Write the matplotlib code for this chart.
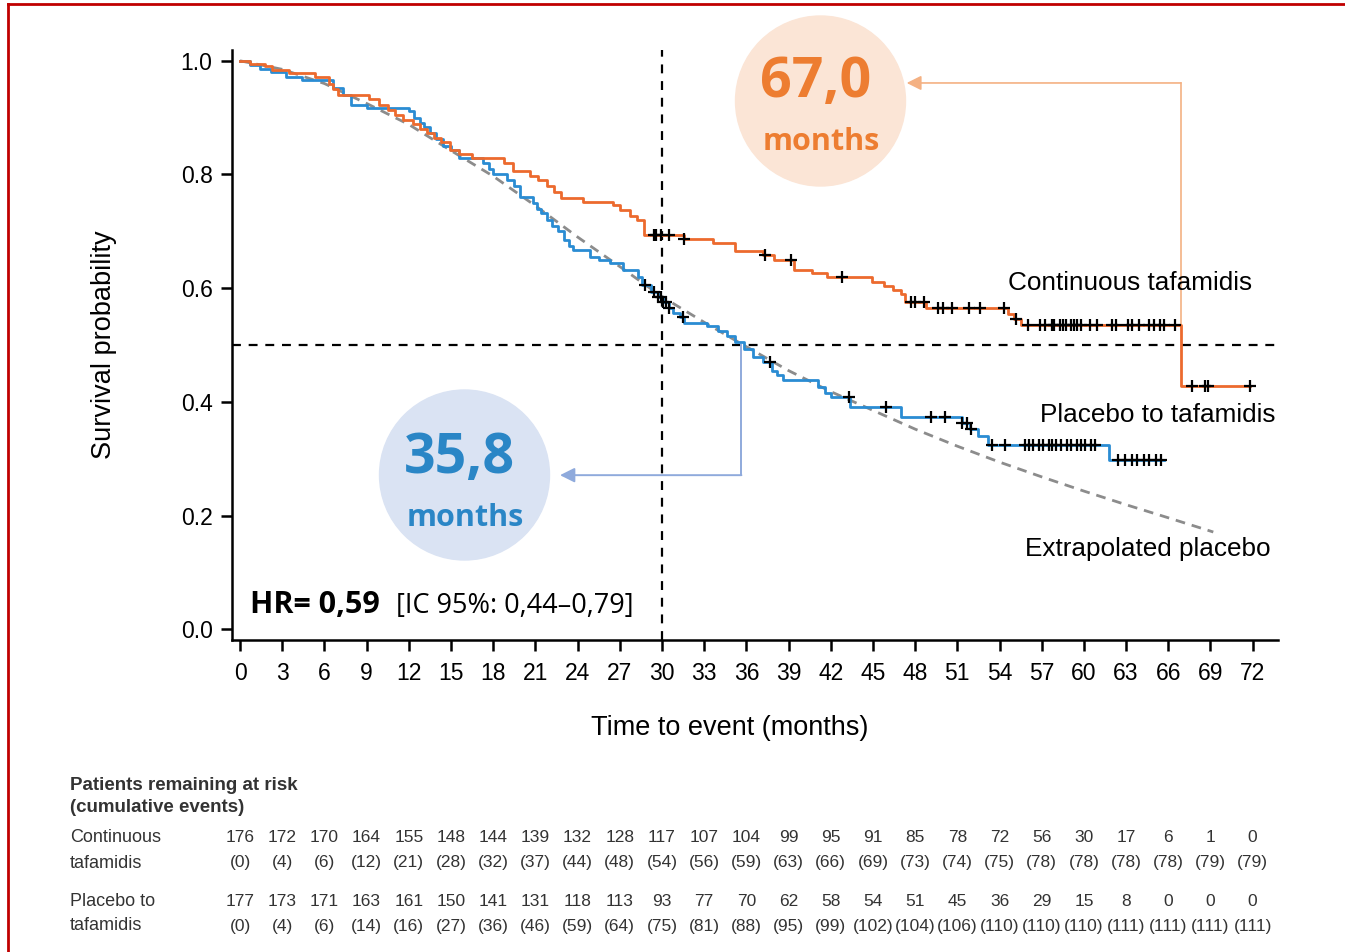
import numpy as np
import matplotlib
matplotlib.use("Agg")
import matplotlib.pyplot as plt
from matplotlib.patches import Ellipse
from matplotlib.lines import Line2D
from matplotlib.transforms import blended_transform_factory

plt.rcParams['font.family'] = ['Liberation Sans', 'DejaVu Sans']

# Kaplan-Meier steps (time in months, survival after the step)
cont_t = [0, 0.7, 1.8, 2.3, 3.5, 5.3, 6.3, 6.6, 7.0, 9.2, 9.9, 10.5, 11.0, 11.6, 12.3,
          12.8, 13.3, 13.8, 14.3, 14.9, 15.6, 16.5, 18.8, 19.4, 20.6, 21.2, 21.8, 22.3,
          22.8, 24.4, 26.5, 27.0, 27.7, 28.2, 28.7, 31.6, 33.6, 35.2, 37.2, 38.0, 39.4,
          40.7, 41.7, 44.9, 45.8, 46.4, 47.0, 47.3, 48.8, 54.6, 55.0, 55.5, 66.9, 71.8]
cont_s = [1.0, 0.995, 0.99, 0.983, 0.978, 0.972, 0.96, 0.95, 0.94, 0.932, 0.922, 0.913,
          0.905, 0.896, 0.889, 0.88, 0.873, 0.864, 0.857, 0.843, 0.836, 0.829, 0.82,
          0.806, 0.797, 0.79, 0.78, 0.77, 0.758, 0.752, 0.746, 0.737, 0.727, 0.72, 0.694,
          0.686, 0.679, 0.665, 0.658, 0.65, 0.632, 0.627, 0.62, 0.61, 0.603, 0.596, 0.589,
          0.576, 0.565, 0.555, 0.545, 0.535, 0.428, 0.428]
cont_cens = [29.4, 29.6, 29.9, 30.5, 31.6, 37.3, 39.2, 42.8, 47.7, 48.0, 48.6, 49.6, 50.0,
             50.6, 51.8, 52.6, 54.3, 55.2, 56.0, 56.9, 57.2, 57.7, 57.9, 58.3, 58.5, 58.7,
             59.1, 59.3, 59.5, 59.8, 60.4, 60.9, 62.0, 62.3, 63.1, 63.4, 63.9, 64.6, 65.0,
             65.4, 65.7, 66.5, 67.7, 68.6, 68.8, 71.8]

plac_t = [0, 0.7, 1.4, 2.2, 3.3, 4.4, 6.6, 7.3, 7.9, 9.0, 12.0, 12.4, 12.8, 13.1, 13.5,
          13.9, 14.4, 15.0, 15.6, 17.3, 17.7, 18.0, 19.0, 19.5, 19.9, 20.8, 21.1, 21.4,
          21.8, 22.2, 22.6, 23.0, 23.4, 23.7, 24.9, 25.5, 26.3, 27.2, 28.3, 28.6, 29.2,
          29.7, 30.1, 30.5, 30.8, 31.3, 31.6, 33.2, 34.0, 34.6, 35.2, 35.8, 36.5, 37.2,
          37.8, 38.2, 38.6, 41.1, 41.6, 42.0, 43.4, 47.0, 51.3, 51.9, 52.5, 53.2, 61.8, 65.7]
plac_s = [1.0, 0.993, 0.985, 0.98, 0.972, 0.967, 0.952, 0.94, 0.922, 0.917, 0.911, 0.9,
          0.89, 0.884, 0.873, 0.862, 0.85, 0.843, 0.829, 0.82, 0.81, 0.8, 0.79, 0.78,
          0.761, 0.75, 0.74, 0.733, 0.72, 0.71, 0.7, 0.685, 0.674, 0.667, 0.655, 0.65,
          0.644, 0.632, 0.62, 0.605, 0.594, 0.585, 0.575, 0.565, 0.556, 0.55, 0.539,
          0.534, 0.525, 0.515, 0.506, 0.493, 0.479, 0.47, 0.455, 0.448, 0.438, 0.426,
          0.415, 0.409, 0.391, 0.374, 0.363, 0.352, 0.34, 0.324, 0.297, 0.297]
plac_cens = [28.8, 29.4, 29.7, 29.9, 30.1, 30.3, 30.5, 31.5, 37.7, 43.3, 45.9, 49.1, 50.1,
             51.3, 51.7, 52.0, 53.5, 54.4, 55.8, 56.1, 56.4, 56.8, 57.1, 57.5, 57.7, 58.0,
             58.4, 58.8, 59.1, 59.5, 59.8, 60.1, 60.5, 60.8, 62.4, 62.9, 63.4, 63.8, 64.3,
             64.6, 65.1, 65.5]

# extrapolated placebo curve
extra_t = [0, 3, 6, 9, 12, 15, 18, 21, 24, 27, 30, 33, 36, 39, 42, 45, 48, 51, 54, 57,
           60, 63, 66, 69.2]
extra_s = [1.0, 0.985, 0.96, 0.925, 0.888, 0.842, 0.797, 0.745, 0.69, 0.638, 0.585, 0.54,
           0.497, 0.455, 0.418, 0.385, 0.352, 0.322, 0.294, 0.268, 0.243, 0.219, 0.196, 0.171]

# risk table
risk_times = list(range(0, 73, 3))
cont_risk = [176, 172, 170, 164, 155, 148, 144, 139, 132, 128, 117, 107, 104, 99, 95, 91,
             85, 78, 72, 56, 30, 17, 6, 1, 0]
cont_events = [0, 4, 6, 12, 21, 28, 32, 37, 44, 48, 54, 56, 59, 63, 66, 69, 73, 74, 75, 78,
               78, 78, 78, 79, 79]
plac_risk = [177, 173, 171, 163, 161, 150, 141, 131, 118, 113, 93, 77, 70, 62, 58, 54, 51,
             45, 36, 29, 15, 8, 0, 0, 0]
plac_events = [0, 4, 6, 14, 16, 27, 36, 46, 59, 64, 75, 81, 88, 95, 99, 102, 104, 106, 110,
               110, 110, 111, 111, 111, 111]

median_cont = 67.0
median_plac = 35.8

ORANGE = '#EC6A2E'
BLUE = '#2A8CD3'


def step_value(times, surv, t):
    i = np.searchsorted(times, t, side='right') - 1
    return np.array(surv)[i]


fig = plt.figure(figsize=(13.45, 9.52), dpi=100)
W, H = 1345, 952
ax = fig.add_axes([232 / W, 1 - 640 / H, (1278 - 232) / W, (640 - 50) / H])
ax.patch.set_visible(False)

# reference lines
ax.axvline(30, color='black', lw=1.6, ls=(0, (4, 3.5)), zorder=1)
ax.axhline(0.5, color='black', lw=1.6, ls=(0, (4, 3.5)), zorder=1)

ax.plot(extra_t, extra_s, color='#8C8C8C', lw=2, ls=(0, (3.5, 2.5)), zorder=2)
ax.step(plac_t, plac_s, where='post', color=BLUE, lw=2, zorder=3)
ax.step(cont_t, cont_s, where='post', color=ORANGE, lw=2, zorder=3)

ax.plot(cont_cens, step_value(cont_t, cont_s, cont_cens), ls='none', marker='+',
        ms=9, mew=1.6, color='black', zorder=4)
ax.plot(plac_cens, step_value(plac_t, plac_s, plac_cens), ls='none', marker='+',
        ms=9, mew=1.6, color='black', zorder=4)

ax.set_xlim(-0.57, 73.8)
ax.set_ylim(-0.019, 1.019)
ax.set_xticks(risk_times)
ax.set_yticks([0, 0.2, 0.4, 0.6, 0.8, 1.0])
ax.set_yticklabels(['0.0', '0.2', '0.4', '0.6', '0.8', '1.0'])
for s in ['top', 'right']:
    ax.spines[s].set_visible(False)
for s in ['left', 'bottom']:
    ax.spines[s].set_linewidth(1.8)
ax.tick_params(axis='both', direction='out', length=8, width=1.8, labelsize=16.5)
ax.tick_params(axis='x', pad=8)
ax.tick_params(axis='y', pad=6)

ax.set_xlabel('Time to event (months)', fontsize=19.5, va='center')
ax.xaxis.set_label_coords((730 - 232) / 1046, (640 - 728) / 590)
ax.set_ylabel('Survival probability', fontsize=19.5, va='center')
ax.yaxis.set_label_coords((104 - 232) / 1046, 0.5)

# curve labels
ax.text(54.6, 0.609, 'Continuous tafamidis', fontsize=18.8, va='center', ha='left')
ax.text(56.9, 0.377, 'Placebo to tafamidis', fontsize=18.8, va='center', ha='left')
ax.text(55.8, 0.141, 'Extrapolated placebo', fontsize=18.8, va='center', ha='left')

# HR text
ax.text(0.7, 0.028, 'HR= 0,59', fontsize=22, fontweight='bold', family='Open Sans',
        va='baseline', ha='left')
ax.text(11.1, 0.028, '[IC 95%: 0,44\u20130,79]', fontsize=19.5, family='Open Sans',
        va='baseline', ha='left')

# median arrows
ax.plot([median_cont - 0.1, median_cont - 0.1], [0.535, 0.961], color='#F4B183', lw=1.2,
        clip_on=False)
ax.annotate('', xy=(47.4, 0.961), xytext=(median_cont - 0.1, 0.961),
            arrowprops=dict(arrowstyle='-|>', color='#F4B183', lw=1.2, mutation_scale=22,
                            shrinkA=0, shrinkB=0))
ax.plot([median_plac - 0.15, median_plac - 0.15], [0.5, 0.271], color='#8FAADC', lw=1.4)
ax.annotate('', xy=(22.75, 0.271), xytext=(median_plac - 0.15, 0.271),
            arrowprops=dict(arrowstyle='-|>', color='#8FAADC', lw=1.4, mutation_scale=22,
                            shrinkA=0, shrinkB=0))

# circles with median values
fig.add_artist(Ellipse((820.5 / W, 1 - 101 / H), 170 / W, 170 / H, color='#FBE5D6', zorder=-1))
fig.add_artist(Ellipse((464.5 / W, 1 - 475 / H), 170 / W, 170 / H, color='#DAE3F3', zorder=-1))
fig.text(816 / W, 1 - 83 / H, '67,0', fontsize=40, fontweight='bold', family='Open Sans',
         color='#ED7D31', ha='center', va='center')
fig.text(821 / W, 1 - 142 / H, 'months', fontsize=22, fontweight='bold', family='Open Sans',
         color='#ED7D31', ha='center', va='center')
fig.text(459 / W, 1 - 458 / H, '35,8', fontsize=40, fontweight='bold', family='Open Sans',
         color='#2A86C6', ha='center', va='center')
fig.text(465 / W, 1 - 518 / H, 'months', fontsize=22, fontweight='bold', family='Open Sans',
         color='#2A86C6', ha='center', va='center')

# risk table
tc = '#333333'
fig.text(70 / W, 1 - 786 / H, 'Patients remaining at risk', fontsize=13.5, fontweight='bold',
         color=tc, va='center')
fig.text(70 / W, 1 - 808 / H, '(cumulative events)', fontsize=13.5, fontweight='bold',
         color=tc, va='center')
fig.text(70 / W, 1 - 838 / H, 'Continuous', fontsize=13, color=tc, va='center')
fig.text(70 / W, 1 - 863 / H, 'tafamidis', fontsize=13, color=tc, va='center')
fig.text(70 / W, 1 - 901 / H, 'Placebo to', fontsize=13, color=tc, va='center')
fig.text(70 / W, 1 - 926 / H, 'tafamidis', fontsize=13, color=tc, va='center')
tr = blended_transform_factory(ax.transData, fig.transFigure)
for t, a, b, c, d in zip(risk_times, cont_risk, cont_events, plac_risk, plac_events):
    ax.text(t, 1 - 838 / H, str(a), transform=tr, fontsize=12.5, color=tc, ha='center', va='center')
    ax.text(t, 1 - 863 / H, '(%d)' % b, transform=tr, fontsize=12.5, color=tc, ha='center', va='center')
    ax.text(t, 1 - 901 / H, str(c), transform=tr, fontsize=12.5, color=tc, ha='center', va='center')
    ax.text(t, 1 - 926 / H, '(%d)' % d, transform=tr, fontsize=12.5, color=tc, ha='center', va='center')

# red frame
fig.add_artist(Line2D([8 / W, 8 / W], [0, 1 - 4 / H], color='#C00000', lw=2))
fig.add_artist(Line2D([8 / W, 1], [1 - 4 / H, 1 - 4 / H], color='#C00000', lw=2))

fig.savefig('out.png', dpi=100)
